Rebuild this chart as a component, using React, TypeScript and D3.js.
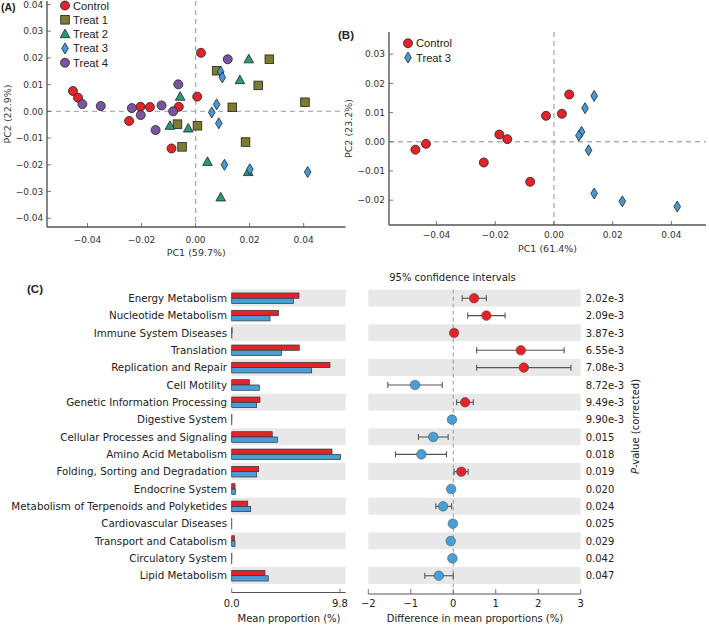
import React from 'react';
import * as d3 from 'd3';

// ---------- Panel A data (PC1, PC2) ----------
const groupNamesA = ['Control', 'Treat 1', 'Treat 2', 'Treat 3', 'Treat 4'];
const controlA: [number, number][] = [
  [0.0020, 0.0219], [-0.0454, 0.0076], [-0.0435, 0.0051], [-0.0204, 0.0017], [-0.0169, 0.0016],
  [-0.0062, 0.0017], [0.0006, 0.0055], [-0.0246, -0.0036], [-0.0089, -0.0139],
];
const treat1A: [number, number][] = [
  [0.0078, 0.0152], [0.0136, 0.0015], [-0.0067, -0.0048], [0.0007, -0.0054], [-0.0050, -0.0133],
  [0.0273, 0.0195], [0.0232, 0.0097], [0.0405, 0.0034], [0.0185, -0.0115],
];
const treat2A: [number, number][] = [
  [-0.0057, 0.0055], [-0.0095, -0.0054], [-0.0027, -0.0064], [0.0164, 0.0117], [0.0197, 0.0195],
  [0.0044, -0.0189], [0.0093, -0.0322], [0.0195, -0.0227],
];
const treat3A: [number, number][] = [
  [0.0093, 0.0148], [0.0099, 0.0127], [0.0078, 0.0026], [0.0060, -0.0004], [0.0086, -0.0045],
  [0.0107, -0.0200], [0.0201, -0.0217], [0.0415, -0.0227],
];
const treat4A: [number, number][] = [
  [-0.0419, 0.0027], [-0.0351, 0.0020], [-0.0236, 0.0012], [-0.0203, -0.0014], [-0.0126, 0.0022],
  [-0.0083, 0.0000], [-0.0064, 0.0101], [-0.0148, -0.0070], [0.0119, 0.0195],
];
const xTicksA = [-0.04, -0.02, 0, 0.02, 0.04];
const yTicksA = [-0.04, -0.03, -0.02, -0.01, 0, 0.01, 0.02, 0.03, 0.04];

// ---------- Panel B data ----------
const groupNamesB = ['Control', 'Treat 3'];
const controlB: [number, number][] = [
  [-0.0472, -0.0027], [-0.0436, -0.0007], [-0.0186, 0.0025], [-0.0159, 0.0009], [-0.0239, -0.0071],
  [-0.0081, -0.0137], [-0.0027, 0.0089], [0.0027, 0.0096], [0.0052, 0.0162],
];
const treat3B: [number, number][] = [
  [0.0137, 0.0157], [0.0106, 0.0115], [0.0094, 0.0034], [0.0085, 0.0021], [0.0118, -0.0029],
  [0.0137, -0.0177], [0.0233, -0.0204], [0.0420, -0.0222],
];
const xTicksB = [-0.04, -0.02, 0, 0.02, 0.04];
const yTicksB = [-0.02, -0.01, 0, 0.01, 0.02, 0.03];

// ---------- Panel C data ----------
const pathways = [
  'Energy Metabolism', 'Nucleotide Metabolism', 'Immune System Diseases', 'Translation',
  'Replication and Repair', 'Cell Motility', 'Genetic Information Processing', 'Digestive System',
  'Cellular Processes and Signaling', 'Amino Acid Metabolism', 'Folding, Sorting and Degradation',
  'Endocrine System', 'Metabolism of Terpenoids and Polyketides', 'Cardiovascular Diseases',
  'Transport and Catabolism', 'Circulatory System', 'Lipid Metabolism',
];
const meanControl = [6.09, 4.25, 0.04, 6.12, 8.9, 1.6, 2.56, 0.02, 3.67, 9.08, 2.44, 0.3, 1.45, 0.01, 0.25, 0.02, 3.01];
const meanTreat3 = [5.58, 3.47, 0.02, 4.52, 7.24, 2.5, 2.26, 0.01, 4.13, 9.86, 2.26, 0.33, 1.72, 0.01, 0.3, 0.01, 3.31];
const diffMean = [0.49, 0.78, 0.02, 1.59, 1.66, -0.9, 0.28, -0.03, -0.47, -0.75, 0.19, -0.05, -0.24, -0.01, -0.06, -0.02, -0.34];
const ciLow = [0.21, 0.34, 0.02, 0.55, 0.55, -1.54, 0.08, -0.03, -0.82, -1.36, 0.02, -0.05, -0.41, -0.01, -0.06, -0.02, -0.67];
const ciHigh = [0.78, 1.22, 0.02, 2.61, 2.77, -0.26, 0.47, -0.03, -0.12, -0.16, 0.35, -0.05, -0.04, -0.01, -0.06, -0.02, 0.0];
const pValues = ['2.02e-3', '2.09e-3', '3.87e-3', '6.55e-3', '7.08e-3', '8.72e-3', '9.49e-3', '9.90e-3',
  '0.015', '0.018', '0.019', '0.020', '0.024', '0.025', '0.029', '0.042', '0.047'];
const barTicks = [0, 9.8];
const ciTicks = [-2, -1, 0, 1, 2, 3];

const RED = '#e3232a';
const BLUE = '#4a9ed8';
const groupColors: Record<string, string> = {
  'Control': '#e3232a', 'Treat 1': '#7d7b30', 'Treat 2': '#289a7a', 'Treat 3': '#4499d6', 'Treat 4': '#7b54a0',
};
const groupShapes: Record<string, string> = {
  'Control': 'circle', 'Treat 1': 'square', 'Treat 2': 'triangle', 'Treat 3': 'diamond', 'Treat 4': 'circle',
};

const FONT = 'DejaVu Sans';
const LFONT = 'Liberation Sans';
const AXC = '#555';

function Marker({ shape, x, y, fill }: { shape: string; x: number; y: number; fill: string }) {
  const common = { fill, stroke: '#222', strokeWidth: 0.8 };
  if (shape === 'square') return <rect x={x - 4.3} y={y - 4.3} width={8.6} height={8.6} {...common} />;
  if (shape === 'triangle') return <path d={`M${x},${y - 5}L${x + 4.8},${y + 3.6}L${x - 4.8},${y + 3.6}Z`} {...common} />;
  if (shape === 'diamond') return <path d={`M${x},${y - 5.5}L${x + 3.3},${y}L${x},${y + 5.5}L${x - 3.3},${y}Z`} {...common} />;
  return <circle cx={x} cy={y} r={4.5} {...common} />;
}

const fmt2 = d3.format('.2f');

function Scatter(props: {
  x: d3.ScaleLinear<number, number>; y: d3.ScaleLinear<number, number>;
  xTicks: number[]; yTicks: number[]; series: { name: string; pts: [number, number][] }[];
  xLabel: string; yLabel: string; xLabelY: number; xTickY: number; yTickX: number; yLabelX: number;
  legendX: number; legendY: number;
}) {
  const { x, y, xTicks, yTicks, series } = props;
  const [x0, x1] = x.range();
  const [y0, y1] = y.range();
  return (
    <g>
      <line x1={x(0)} x2={x(0)} y1={y1} y2={y0} stroke="#b0b0b0" strokeWidth={1.4} strokeDasharray="5,4" />
      <line x1={x0} x2={x1} y1={y(0)} y2={y(0)} stroke="#b0b0b0" strokeWidth={1.4} strokeDasharray="5,4" />
      <line x1={x0} x2={x0} y1={y1} y2={y0} stroke={AXC} strokeWidth={1.4} />
      <line x1={x0} x2={x1} y1={y0} y2={y0} stroke={AXC} strokeWidth={1.4} />
      {xTicks.map((t) => (
        <g key={'x' + t}>
          <line x1={x(t)} x2={x(t)} y1={y0} y2={y0 - 4} stroke={AXC} strokeWidth={0.8} />
          <text x={x(t)} y={props.xTickY} textAnchor="middle" fontFamily={FONT} fontSize={9} fill="#333">{fmt2(t)}</text>
        </g>
      ))}
      {yTicks.map((t) => (
        <g key={'y' + t}>
          <line x1={x0} x2={x0 + 4} y1={y(t)} y2={y(t)} stroke={AXC} strokeWidth={0.8} />
          <text x={props.yTickX} y={y(t) + 3.3} textAnchor="end" fontFamily={FONT} fontSize={9} fill="#333">{fmt2(t)}</text>
        </g>
      ))}
      <text x={(x0 + x1) / 2} y={props.xLabelY} textAnchor="middle" fontFamily={FONT} fontSize={9.5} fill="#333">{props.xLabel}</text>
      <text transform={`translate(${props.yLabelX},${(y0 + y1) / 2}) rotate(-90)`} textAnchor="middle" fontFamily={FONT} fontSize={9.5} fill="#333">{props.yLabel}</text>
      {series.map((s) => (
        <g key={s.name}>
          {s.pts.map((p, i) => (
            <Marker key={i} shape={groupShapes[s.name]} x={x(p[0])} y={y(p[1])} fill={groupColors[s.name]} />
          ))}
        </g>
      ))}
      {series.map((s, i) => (
        <g key={'lg' + s.name}>
          <Marker shape={groupShapes[s.name]} x={props.legendX} y={props.legendY + i * 14.3} fill={groupColors[s.name]} />
          <text x={props.legendX + 8} y={props.legendY + i * 14.3 + 4} fontFamily={LFONT} fontSize={11.2} fill="#222">{s.name}</text>
        </g>
      ))}
    </g>
  );
}

export default function App() {
  const xA = d3.scaleLinear().domain([-0.055, 0.0555]).range([47, 345.5]);
  const yA = d3.scaleLinear().domain([-0.0433, 0.0413]).range([227, 1]);
  const xB = d3.scaleLinear().domain([-0.0562, 0.0518]).range([389, 706]);
  const yB = d3.scaleLinear().domain([-0.0285, 0.0376]).range([225, 32]);

  const seriesA = [controlA, treat1A, treat2A, treat3A, treat4A].map((pts, i) => ({ name: groupNamesA[i], pts }));
  const seriesB = [controlB, treat3B].map((pts, i) => ({ name: groupNamesB[i], pts }));

  const rowScale = d3.scaleBand<string>().domain(pathways).range([289.6, 584.4]).padding(0);
  const bw = rowScale.bandwidth();
  const xBar = d3.scaleLinear().domain([0, 10.32]).range([231.7, 345.7]);
  const xCI = d3.scaleLinear().domain([-2, 3]).range([368.3, 580.7]);
  const barAxisY = 592.5;
  const ciAxisY = 594;

  return (
    <svg width={709} height={625} style={{ position: 'absolute', left: 0, top: 0, background: '#fff' }}>
      <rect x={0} y={0} width={709} height={625} fill="#fff" />
      {/* Panel A */}
      <Scatter x={xA} y={yA} xTicks={xTicksA} yTicks={yTicksA} series={seriesA}
        xLabel="PC1 (59.7%)" yLabel="PC2 (22.9%)" xLabelY={255.5} xTickY={242.5} yTickX={43.3} yLabelX={11}
        legendX={65} legendY={5.5} />
      <text x={1} y={11} fontFamily={LFONT} fontWeight="bold" fontSize={10.5} fill="#222">(A)</text>
      {/* Panel B */}
      <Scatter x={xB} y={yB} xTicks={xTicksB} yTicks={yTicksB} series={seriesB}
        xLabel="PC1 (61.4%)" yLabel="PC2 (23.2%)" xLabelY={252} xTickY={238} yTickX={385} yLabelX={351.5}
        legendX={408} legendY={43.3} />
      <text x={338} y={39} fontFamily={LFONT} fontWeight="bold" fontSize={11.5} fill="#222">(B)</text>

      {/* Panel C */}
      <text x={27} y={293} fontFamily={LFONT} fontWeight="bold" fontSize={11.5} fill="#222">(C)</text>
      {pathways.map((p, i) => {
        const top = rowScale(p)!;
        const c = top + bw / 2;
        return (
          <g key={p}>
            {i % 2 === 0 && (
              <>
                <rect x={xBar.range()[0]} y={top} width={xBar.range()[1] - xBar.range()[0]} height={bw - 0.4} fill="#e8e8e9" />
                <rect x={xCI.range()[0]} y={top} width={xCI.range()[1] - xCI.range()[0]} height={bw - 0.4} fill="#e8e8e9" />
              </>
            )}
            <text x={227} y={c + 3.6} textAnchor="end" fontFamily={FONT} fontSize={10.3} fill="#222">{p}</text>
            <rect x={xBar(0)} y={c - 5.3} width={Math.max(0, xBar(meanControl[i]) - xBar(0))} height={5.3} fill={RED} stroke="#333" strokeWidth={0.7} />
            <rect x={xBar(0)} y={c} width={Math.max(0, xBar(meanTreat3[i]) - xBar(0))} height={5.3} fill={BLUE} stroke="#333" strokeWidth={0.7} />
            <text x={585.7} y={c + 3.6} fontFamily={FONT} fontSize={10} fill="#222">{pValues[i]}</text>
          </g>
        );
      })}
      {/* zero line in CI panel */}
      <line x1={xCI(0)} x2={xCI(0)} y1={rowScale.range()[0]} y2={ciAxisY} stroke="#999" strokeWidth={1} strokeDasharray="4,3" />
      {pathways.map((p, i) => {
        const c = rowScale(p)! + bw / 2;
        const hasErr = ciHigh[i] - ciLow[i] > 0.01;
        const col = diffMean[i] >= 0 ? RED : BLUE;
        return (
          <g key={'ci' + p}>
            {hasErr && (
              <g stroke="#555" strokeWidth={1.1}>
                <line x1={xCI(ciLow[i])} x2={xCI(ciHigh[i])} y1={c} y2={c} />
                <line x1={xCI(ciLow[i])} x2={xCI(ciLow[i])} y1={c - 3} y2={c + 3} />
                <line x1={xCI(ciHigh[i])} x2={xCI(ciHigh[i])} y1={c - 3} y2={c + 3} />
              </g>
            )}
            <circle cx={xCI(diffMean[i])} cy={c} r={4.8} fill={col} stroke="#444" strokeWidth={0.5} />
          </g>
        );
      })}
      {/* bar axis */}
      <line x1={xBar.range()[0]} x2={xBar.range()[1]} y1={barAxisY} y2={barAxisY} stroke={AXC} strokeWidth={1.2} />
      {barTicks.map((t) => (
        <g key={'bt' + t}>
          <line x1={xBar(t)} x2={xBar(t)} y1={barAxisY} y2={barAxisY - 4} stroke={AXC} strokeWidth={0.8} />
          <text x={xBar(t)} y={606.5} textAnchor="middle" fontFamily={FONT} fontSize={10} fill="#222">{d3.format('.1f')(t)}</text>
        </g>
      ))}
      <text x={289} y={621.5} textAnchor="middle" fontFamily={FONT} fontSize={10} fill="#222">Mean proportion (%)</text>
      {/* CI axis */}
      <line x1={xCI.range()[0]} x2={xCI.range()[1]} y1={ciAxisY} y2={ciAxisY} stroke={AXC} strokeWidth={1.2} />
      {ciTicks.map((t) => (
        <g key={'ct' + t}>
          <line x1={xCI(t)} x2={xCI(t)} y1={ciAxisY} y2={ciAxisY - 5} stroke={AXC} strokeWidth={0.8} />
          <text x={xCI(t)} y={606.5} textAnchor="middle" fontFamily={FONT} fontSize={10} fill="#222">{d3.format('d')(t)}</text>
        </g>
      ))}
      <text x={475} y={621.5} textAnchor="middle" fontFamily={FONT} fontSize={10} fill="#222">Difference in mean proportions (%)</text>
      <text x={452.5} y={281} textAnchor="middle" fontFamily={FONT} fontSize={10} fill="#222">95% confidence intervals</text>
      <text transform={`translate(639,426.5) rotate(-90)`} textAnchor="middle" fontFamily={FONT} fontSize={10} fill="#222">
        <tspan fontStyle="italic">P</tspan>-value (corrected)
      </text>
    </svg>
  );
}
